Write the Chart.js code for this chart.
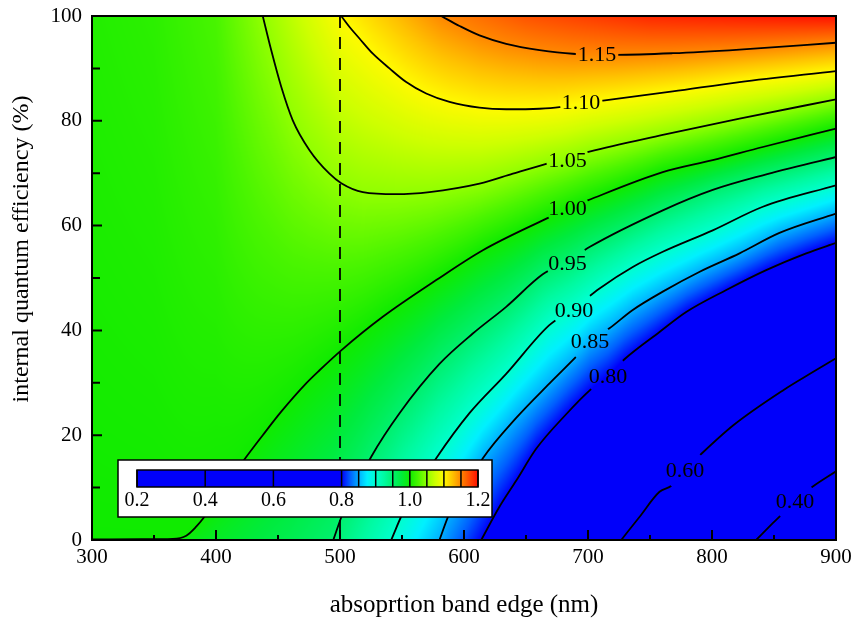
<!DOCTYPE html>
<html>
<head>
<meta charset="utf-8">
<script src="https://cdn.jsdelivr.net/npm/chart.js@4.4.1/dist/chart.umd.min.js"></script>
<style>html,body{margin:0;padding:0;background:#fff}canvas{display:block}</style>
</head>
<body>
<canvas id="c" width="856" height="621"></canvas>
<script>
// ---------------- data ----------------
const xTitle = 'absoprtion band edge (nm)';
const yTitle = 'internal quantum efficiency (%)';
const xMajorTicks = [300, 400, 500, 600, 700, 800, 900];
const xMinorTicks = [350, 450, 550, 650, 750, 850];
const yMajorTicks = [0, 20, 40, 60, 80, 100];
const yMinorTicks = [10, 30, 50, 70, 90];

const contourLevels = [0.40, 0.60, 0.80, 0.85, 0.90, 0.95, 1.00, 1.05, 1.10, 1.15];

const c040Lam = [835.6, 849.0, 857.1, 866.5, 881.3, 900];
const c040Iqe = [0, 3.2, 5.1, 7.5, 10.2, 13.1];

const c060Lam = [726.8, 741.5, 757.7, 767.5, 778.2, 790.3, 817.2, 857.5, 881.7, 900];
const c060Iqe = [0, 4.4, 9.2, 10.4, 13.4, 16.2, 21.9, 28.6, 32.1, 34.7];

const c080Lam = [613.9, 628.6, 642.3, 658.2, 682.4, 701.6, 716.1, 729.4, 757.7, 779.2, 811.5, 843.7, 876.0, 900];
const c080Iqe = [0, 6.35, 11.4, 17.4, 24.0, 28.6, 31.3, 34.5, 39.7, 43.5, 47.7, 51.5, 54.7, 56.7];

const c085Lam = [580.2, 588.3, 601.8, 615.2, 642.1, 669.0, 690.5, 701.6, 717.3, 736.1, 760.3, 790.1, 822.2, 854.4, 900];
const c085Iqe = [0, 5.1, 10.2, 15.6, 23.3, 29.9, 35.0, 37.8, 40.4, 43.9, 47.4, 51.2, 54.7, 58.6, 62.3];

const c090Lam = [541.3, 550.6, 564.1, 577.6, 604.4, 634.0, 668.8, 688.7, 709.3, 736.1, 760.3, 800.6, 841.0, 900];
const c090Iqe = [0, 5.1, 10.5, 15.6, 24.2, 31.7, 41.0, 44.2, 48.0, 52.1, 55.0, 59.1, 63.6, 67.7];

const c095Lam = [494.6, 502.3, 525.2, 548.0, 580.2, 607.1, 634.0, 663.5, 683.5, 701.2, 760.3, 800.6, 841.0, 900];
const c095Iqe = [0, 5.1, 15.9, 24.2, 33.6, 39.4, 44.5, 50.7, 53.2, 55.9, 62.9, 66.8, 69.6, 73.1];

const c100Lam = [300, 340, 365.2, 376.0, 384.0, 390.7, 406.9, 423.0, 437.7, 452.6, 472.7, 483.5, 501.0, 534.5, 577.6, 615.2, 663.5, 683.5, 699.8, 760.3, 800.6, 841.0, 900];
const c100Iqe = [0.12, 0.15, 0.22, 0.82, 2.54, 4.44, 9.9, 15.4, 20.0, 24.5, 29.9, 32.4, 36.2, 42.6, 49.6, 55.3, 61.0, 63.2, 64.8, 70.2, 72.5, 75.0, 78.5];

const c105Lam = [437.7, 444.5, 452.6, 461.9, 475.4, 491.5, 501.0, 518.4, 545.3, 572.2, 612.5, 639.4, 666.3, 683.5, 701.2, 760.3, 822.2, 900];
const c105Iqe = [100, 93.5, 86.5, 80.1, 74.4, 69.9, 68.1, 66.4, 66.0, 66.4, 68.0, 69.9, 71.8, 72.8, 74.1, 77.3, 80.4, 84.1];

const c110Lam = [501.0, 507.7, 515.7, 526.5, 539.9, 553.4, 569.5, 588.3, 612.5, 634.0, 660.9, 677.0, 694.4, 710.6, 768.4, 822.2, 900];
const c110Iqe = [100, 97.9, 95.7, 92.8, 90.0, 87.4, 85.2, 83.6, 82.5, 82.2, 82.3, 82.6, 83.3, 83.8, 85.6, 87.4, 89.5];

const c115Lam = [581.6, 596.4, 612.5, 634.0, 660.9, 687.7, 707.3, 722.7, 768.4, 822.2, 900];
const c115Iqe = [100, 98.1, 96.3, 94.7, 93.5, 92.8, 92.7, 92.6, 92.9, 93.6, 94.9];

const contourLam = [c040Lam, c060Lam, c080Lam, c085Lam, c090Lam, c095Lam, c100Lam, c105Lam, c110Lam, c115Lam];
const contourIqe = [c040Iqe, c060Iqe, c080Iqe, c085Iqe, c090Iqe, c095Iqe, c100Iqe, c105Iqe, c110Iqe, c115Iqe];

const labelText = ['0.40', '0.60', '0.80', '0.85', '0.90', '0.95', '1.00', '1.05', '1.10', '1.15'];
const labelLam = [866.9, 778.2, 716.1, 701.6, 688.7, 683.5, 683.5, 683.5, 694.4, 707.3];
const labelIqe = [7.5, 13.4, 31.3, 38.0, 43.9, 52.9, 63.4, 72.6, 83.6, 92.75];

// field value along the bottom (IQE = 0) and top (IQE = 100) edges
const bottomLam = [300, 360, 380, 420, 460, 494.6, 541.3, 580.2, 613.9, 670, 726.8, 780, 835.6, 900];
const bottomVal = [0.998, 0.997, 0.99, 0.978, 0.965, 0.95, 0.90, 0.85, 0.80, 0.70, 0.60, 0.50, 0.40, 0.31];
const topLam = [300, 350, 400, 437.7, 501, 581.6, 650, 750, 900];
const topVal = [1.008, 1.012, 1.024, 1.05, 1.10, 1.15, 1.172, 1.19, 1.20];

// dashed marker line
const dashLam = [500, 500];
const dashIqe = [100, 0];

// colour bar
const cbEdges = [0.2, 0.4, 0.6, 0.8, 0.85, 0.9, 0.95, 1.0, 1.05, 1.1, 1.15, 1.2];
const cbTicks = [0.2, 0.4, 0.6, 0.8, 1.0, 1.2];

// ---------------- styles ----------------
const SERIF = "'Liberation Serif', 'Times New Roman', serif";
const cmapV = [0.80, 0.825, 0.85, 0.875, 0.90, 0.925, 0.95, 0.975, 1.00, 1.025, 1.05, 1.075, 1.10, 1.125, 1.15, 1.175, 1.20];
const cmapRGB = [[0,0,250],[0,95,255],[0,175,255],[0,240,255],[0,255,205],[0,250,160],[0,240,110],[0,235,60],[15,235,0],[75,245,0],[145,255,0],[205,255,0],[255,250,0],[255,195,0],[255,135,0],[255,75,0],[255,15,0]];

function interp1(xs, ys, x) {
  if (x <= xs[0]) return ys[0];
  const n = xs.length;
  if (x >= xs[n - 1]) return ys[n - 1];
  let i = 1;
  while (xs[i] < x) i++;
  const t = (x - xs[i - 1]) / (xs[i] - xs[i - 1]);
  return ys[i - 1] + t * (ys[i] - ys[i - 1]);
}
function cmap(v) {
  if (v <= cmapV[0]) return cmapRGB[0];
  const n = cmapV.length;
  if (v >= cmapV[n - 1]) return cmapRGB[n - 1];
  let i = 1;
  while (cmapV[i] < v) i++;
  const t = (v - cmapV[i - 1]) / (cmapV[i] - cmapV[i - 1]);
  const a = cmapRGB[i - 1], b = cmapRGB[i];
  return [a[0] + t * (b[0] - a[0]), a[1] + t * (b[1] - a[1]), a[2] + t * (b[2] - a[2])];
}
function rgbStr(c) { return 'rgb(' + Math.round(c[0]) + ',' + Math.round(c[1]) + ',' + Math.round(c[2]) + ')'; }

// field colouring: along each column, interpolate between contour crossings
function drawField(chart) {
  const { ctx, chartArea: ca, scales: { x: xs, y: ys } } = chart;
  const x0 = Math.round(ca.left), x1 = Math.round(ca.right);
  const y0 = Math.round(ca.top), y1 = Math.round(ca.bottom);
  const w = x1 - x0, h = y1 - y0;
  const off = document.createElement('canvas');
  off.width = w; off.height = h;
  const octx = off.getContext('2d');
  const img = octx.createImageData(w, h);
  const d = img.data;
  for (let i = 0; i < w; i++) {
    const lam = xs.getValueForPixel(x0 + i + 0.5);
    const nodes = [[0, interp1(bottomLam, bottomVal, lam)], [100, interp1(topLam, topVal, lam)]];
    for (let k = 0; k < contourLevels.length; k++) {
      const L = contourLam[k];
      if (lam < L[0] || lam > L[L.length - 1]) continue;
      nodes.push([interp1(L, contourIqe[k], lam), contourLevels[k]]);
    }
    nodes.sort((a, b) => a[0] - b[0]);
    for (let j = 0; j < h; j++) {
      const q = ys.getValueForPixel(y0 + j + 0.5);
      let m = 1;
      while (m < nodes.length - 1 && nodes[m][0] < q) m++;
      const a = nodes[m - 1], b = nodes[m];
      let t = b[0] === a[0] ? 0 : (q - a[0]) / (b[0] - a[0]);
      t = Math.max(0, Math.min(1, t));
      const c = cmap(a[1] + t * (b[1] - a[1]));
      const p = (j * w + i) * 4;
      d[p] = c[0]; d[p + 1] = c[1]; d[p + 2] = c[2]; d[p + 3] = 255;
    }
  }
  octx.putImageData(img, 0, 0);
  ctx.drawImage(off, x0, y0);
}

const LABEL_FONT = '22px ' + SERIF;

const contourPlugin = {
  id: 'contourField',
  beforeDraw(chart) {
    const ctx = chart.ctx;
    ctx.save();
    ctx.fillStyle = '#fff';
    ctx.fillRect(0, 0, chart.width, chart.height);
    drawField(chart);
    ctx.restore();
  },
  beforeDatasetsDraw(chart) {
    const { ctx, scales: { x: xs, y: ys } } = chart;
    ctx.save();
    ctx.font = LABEL_FONT;
    ctx.beginPath();
    ctx.rect(0, 0, chart.width, chart.height);
    for (let k = 0; k < labelText.length; k++) {
      const lx = xs.getPixelForValue(labelLam[k]), ly = ys.getPixelForValue(labelIqe[k]);
      const la = labelLam[k] - 8, lb = Math.min(900, labelLam[k] + 8);
      const xa = xs.getPixelForValue(la), ya = ys.getPixelForValue(interp1(contourLam[k], contourIqe[k], la));
      const xb = xs.getPixelForValue(lb), yb = ys.getPixelForValue(interp1(contourLam[k], contourIqe[k], lb));
      const ang = Math.atan2(yb - ya, xb - xa);
      const hw = (ctx.measureText(labelText[k]).width + 4) / 2, hh = 9;
      const c = Math.cos(ang), s = Math.sin(ang);
      const pts = [[-hw, -hh], [hw, -hh], [hw, hh], [-hw, hh]].map(([u, v]) => [lx + u * c - v * s, ly + u * s + v * c]);
      ctx.moveTo(pts[0][0], pts[0][1]);
      for (let i = 1; i < 4; i++) ctx.lineTo(pts[i][0], pts[i][1]);
      ctx.closePath();
    }
    ctx.clip('evenodd');
  },
  afterDatasetsDraw(chart) {
    const { ctx, chartArea: ca, scales: { x: xs, y: ys } } = chart;
    ctx.restore();
    ctx.save();
    // contour labels
    ctx.font = LABEL_FONT;
    ctx.fillStyle = '#000';
    ctx.textAlign = 'center';
    ctx.textBaseline = 'alphabetic';
    for (let k = 0; k < labelText.length; k++) {
      ctx.fillText(labelText[k], xs.getPixelForValue(labelLam[k]), ys.getPixelForValue(labelIqe[k]) + 7.5);
    }
    // inward ticks
    ctx.strokeStyle = '#000';
    ctx.lineWidth = 2;
    ctx.beginPath();
    xMajorTicks.forEach(v => { const p = xs.getPixelForValue(v); ctx.moveTo(p, ca.bottom); ctx.lineTo(p, ca.bottom - 10); });
    xMinorTicks.forEach(v => { const p = xs.getPixelForValue(v); ctx.moveTo(p, ca.bottom); ctx.lineTo(p, ca.bottom - 5); });
    yMajorTicks.forEach(v => { const p = ys.getPixelForValue(v); ctx.moveTo(ca.left, p); ctx.lineTo(ca.left + 10, p); });
    yMinorTicks.forEach(v => { const p = ys.getPixelForValue(v); ctx.moveTo(ca.left, p); ctx.lineTo(ca.left + 8, p); });
    ctx.stroke();
    // frame
    ctx.strokeRect(ca.left, ca.top, ca.right - ca.left, ca.bottom - ca.top);
    // y axis title
    ctx.save();
    ctx.translate(21.5, 249);
    ctx.rotate(-Math.PI / 2);
    ctx.font = '24px ' + SERIF;
    ctx.textAlign = 'center';
    ctx.textBaseline = 'middle';
    ctx.fillText(yTitle, 0, 0);
    ctx.restore();
    // colour bar legend
    const bx = 118, by = 460, bw = 374, bh = 57;
    const cx0 = 137, cx1 = 478, cy0 = 470, cy1 = 487;
    const cbX = v => cx0 + (v - cbEdges[0]) / (cbEdges[cbEdges.length - 1] - cbEdges[0]) * (cx1 - cx0);
    ctx.fillStyle = '#fff';
    ctx.fillRect(bx, by, bw, bh);
    ctx.lineWidth = 1.5;
    ctx.strokeRect(bx, by, bw, bh);
    for (let i = 0; i < cbEdges.length - 1; i++) {
      const a = cbEdges[i], b = cbEdges[i + 1];
      const pa = cbX(a), pb = cbX(b);
      const g = ctx.createLinearGradient(pa, 0, pb, 0);
      for (let s = 0; s <= 4; s++) g.addColorStop(s / 4, rgbStr(cmap(a + (b - a) * s / 4)));
      ctx.fillStyle = g;
      ctx.fillRect(pa, cy0, pb - pa, cy1 - cy0);
    }
    ctx.beginPath();
    cbEdges.forEach(v => { const p = cbX(v); ctx.moveTo(p, cy0); ctx.lineTo(p, cy1); });
    ctx.stroke();
    ctx.strokeRect(cx0, cy0, cx1 - cx0, cy1 - cy0);
    ctx.fillStyle = '#000';
    ctx.font = '20px ' + SERIF;
    ctx.textAlign = 'center';
    ctx.textBaseline = 'middle';
    cbTicks.forEach(v => ctx.fillText(v.toFixed(1), cbX(v), 501));
    ctx.restore();
  }
};

const datasets = contourLevels.map((lev, k) => ({
  label: lev.toFixed(2),
  data: contourLam[k].map((l, i) => ({ x: l, y: contourIqe[k][i] })),
  showLine: true,
  borderColor: '#000',
  borderWidth: 1.8,
  pointRadius: 0,
  pointHoverRadius: 0,
  cubicInterpolationMode: 'monotone',
  fill: false
}));
datasets.push({
  label: '500 nm',
  data: dashLam.map((l, i) => ({ x: l, y: dashIqe[i] })),
  showLine: true,
  borderColor: '#000',
  borderWidth: 1.8,
  borderDash: [12, 9],
  pointRadius: 0,
  pointHoverRadius: 0,
  tension: 0,
  fill: false
});

new Chart(document.getElementById('c'), {
  type: 'scatter',
  data: { datasets },
  options: {
    responsive: false,
    devicePixelRatio: 1,
    animation: false,
    events: [],
    layout: { padding: { left: 0, right: 20, top: 16, bottom: 0 } },
    plugins: { legend: { display: false }, tooltip: { enabled: false } },
    scales: {
      x: {
        type: 'linear', position: 'bottom', min: 300, max: 900,
        ticks: { stepSize: 100, color: '#000', padding: 0, maxRotation: 0, font: { family: SERIF, size: 21 } },
        grid: { display: false, drawTicks: true, tickLength: 5 },
        border: { display: false },
        title: { display: true, text: xTitle, color: '#000', font: { family: SERIF, size: 25 }, padding: { top: 0, bottom: 1 } },
        afterFit(s) { s.height = 81; }
      },
      y: {
        type: 'linear', position: 'left', min: 0, max: 100,
        ticks: { stepSize: 20, color: '#000', padding: 0, font: { family: SERIF, size: 21 } },
        grid: { display: false, drawTicks: true, tickLength: 10 },
        border: { display: false },
        afterFit(s) { s.width = 92; }
      }
    }
  },
  plugins: [contourPlugin]
});
</script>
</body>
</html>
